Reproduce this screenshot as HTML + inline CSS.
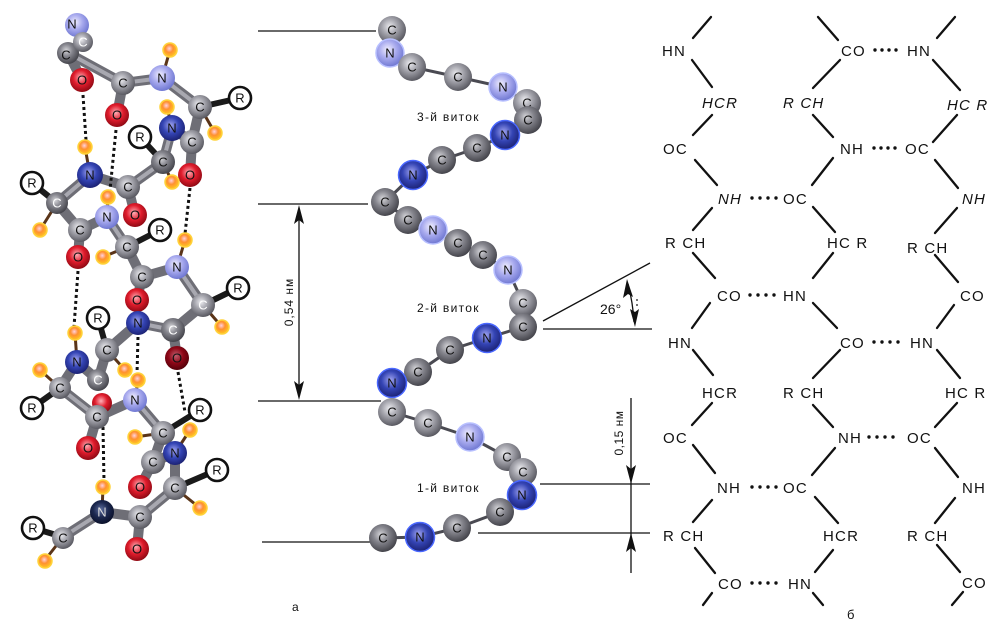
<!DOCTYPE html>
<html><head><meta charset="utf-8"><style>
html,body{margin:0;padding:0;background:#fff;}
svg{display:block;}
</style></head><body>
<svg width="1000" height="640" viewBox="0 0 1000 640" xmlns="http://www.w3.org/2000/svg" font-family="'Liberation Sans', sans-serif">
<defs>
<radialGradient id="gC" cx="0.42" cy="0.38" r="0.62"><stop offset="0" stop-color="#ececf0"/><stop offset="0.45" stop-color="#a4a4ac"/><stop offset="1" stop-color="#5a5a62"/></radialGradient>
<radialGradient id="gD" cx="0.42" cy="0.38" r="0.62"><stop offset="0" stop-color="#d6d6da"/><stop offset="0.45" stop-color="#85858d"/><stop offset="1" stop-color="#45454c"/></radialGradient>
<radialGradient id="gn" cx="0.42" cy="0.38" r="0.62"><stop offset="0" stop-color="#f0eeff"/><stop offset="0.5" stop-color="#a8aaee"/><stop offset="1" stop-color="#7078d2"/></radialGradient>
<radialGradient id="gN" cx="0.45" cy="0.4" r="0.62"><stop offset="0" stop-color="#a0a4f0"/><stop offset="0.5" stop-color="#3444b4"/><stop offset="1" stop-color="#1a2070"/></radialGradient>
<radialGradient id="gK" cx="0.45" cy="0.4" r="0.62"><stop offset="0" stop-color="#6070a0"/><stop offset="0.5" stop-color="#1c2850"/><stop offset="1" stop-color="#0a1028"/></radialGradient>
<radialGradient id="gO" cx="0.45" cy="0.4" r="0.62"><stop offset="0" stop-color="#ffb0b8"/><stop offset="0.5" stop-color="#e01c2c"/><stop offset="1" stop-color="#8a0812"/></radialGradient>
<radialGradient id="gO2" cx="0.45" cy="0.4" r="0.62"><stop offset="0" stop-color="#c06070"/><stop offset="0.5" stop-color="#900818"/><stop offset="1" stop-color="#500008"/></radialGradient>
<radialGradient id="gH" cx="0.45" cy="0.4" r="0.6"><stop offset="0" stop-color="#ffd0e0"/><stop offset="0.45" stop-color="#ff9030"/><stop offset="1" stop-color="#ffc820"/></radialGradient>
</defs>

<!-- ============ LEFT MODEL ============ -->
<g stroke-linecap="round">
<g stroke="#6e6e76" stroke-width="10">
<line x1="77" y1="25" x2="83" y2="42"/><line x1="83" y1="42" x2="68" y2="53"/><line x1="68" y1="53" x2="82" y2="80"/><line x1="68" y1="53" x2="123" y2="83"/>
<line x1="123" y1="83" x2="117" y2="115"/><line x1="123" y1="83" x2="162" y2="78"/><line x1="162" y1="78" x2="200" y2="107"/><line x1="200" y1="107" x2="192" y2="142"/>
<line x1="192" y1="142" x2="190" y2="175"/><line x1="192" y1="142" x2="172" y2="128"/><line x1="172" y1="128" x2="163" y2="162"/><line x1="163" y1="162" x2="128" y2="187"/>
<line x1="128" y1="187" x2="135" y2="215"/><line x1="128" y1="187" x2="90" y2="175"/><line x1="90" y1="175" x2="57" y2="203"/><line x1="57" y1="203" x2="80" y2="230"/>
<line x1="80" y1="230" x2="78" y2="257"/><line x1="80" y1="230" x2="107" y2="217"/><line x1="107" y1="217" x2="127" y2="247"/><line x1="127" y1="247" x2="142" y2="277"/>
<line x1="142" y1="277" x2="137" y2="300"/><line x1="142" y1="277" x2="177" y2="267"/><line x1="177" y1="267" x2="203" y2="305"/><line x1="203" y1="305" x2="173" y2="330"/>
<line x1="173" y1="330" x2="177" y2="358"/><line x1="173" y1="330" x2="138" y2="323"/><line x1="138" y1="323" x2="107" y2="350"/><line x1="107" y1="350" x2="98" y2="380"/>
<line x1="98" y1="380" x2="77" y2="362"/><line x1="77" y1="362" x2="60" y2="388"/><line x1="60" y1="388" x2="97" y2="417"/><line x1="97" y1="417" x2="88" y2="448"/>
<line x1="97" y1="417" x2="135" y2="400"/><line x1="135" y1="400" x2="163" y2="433"/><line x1="163" y1="433" x2="153" y2="462"/><line x1="153" y1="462" x2="140" y2="487"/>
<line x1="153" y1="462" x2="175" y2="453"/><line x1="175" y1="453" x2="175" y2="488"/><line x1="175" y1="488" x2="140" y2="517"/><line x1="140" y1="517" x2="137" y2="548"/>
<line x1="140" y1="517" x2="102" y2="512"/><line x1="102" y1="512" x2="63" y2="537"/>
</g>
<g stroke="#a8a8b0" stroke-width="4">
<line x1="68" y1="53" x2="123" y2="83"/><line x1="123" y1="83" x2="162" y2="78"/><line x1="162" y1="78" x2="200" y2="107"/><line x1="172" y1="128" x2="163" y2="162"/><line x1="163" y1="162" x2="128" y2="187"/>
<line x1="90" y1="175" x2="57" y2="203"/><line x1="107" y1="217" x2="127" y2="247"/><line x1="177" y1="267" x2="203" y2="305"/><line x1="173" y1="330" x2="138" y2="323"/><line x1="60" y1="388" x2="97" y2="417"/>
<line x1="135" y1="400" x2="163" y2="433"/><line x1="175" y1="488" x2="140" y2="517"/><line x1="102" y1="512" x2="63" y2="537"/>
</g>
<g stroke="#5a3418" stroke-width="3">
<line x1="162" y1="78" x2="170" y2="50"/><line x1="200" y1="107" x2="215" y2="133"/><line x1="172" y1="128" x2="167" y2="107"/><line x1="163" y1="162" x2="172" y2="182"/>
<line x1="90" y1="175" x2="85" y2="147"/><line x1="57" y1="203" x2="40" y2="230"/><line x1="107" y1="217" x2="108" y2="197"/><line x1="127" y1="247" x2="103" y2="257"/>
<line x1="177" y1="267" x2="185" y2="240"/><line x1="203" y1="305" x2="222" y2="327"/><line x1="107" y1="350" x2="125" y2="370"/><line x1="77" y1="362" x2="75" y2="333"/>
<line x1="60" y1="388" x2="40" y2="370"/><line x1="135" y1="400" x2="138" y2="380"/><line x1="163" y1="433" x2="135" y2="437"/><line x1="175" y1="453" x2="190" y2="430"/>
<line x1="175" y1="488" x2="200" y2="508"/><line x1="102" y1="512" x2="103" y2="487"/><line x1="63" y1="537" x2="45" y2="560"/>
</g>
<g stroke="#1a1a1a" stroke-width="6">
<line x1="200" y1="107" x2="240" y2="98"/><line x1="163" y1="162" x2="140" y2="137"/><line x1="57" y1="203" x2="32" y2="183"/><line x1="127" y1="247" x2="160" y2="230"/>
<line x1="203" y1="305" x2="238" y2="288"/><line x1="107" y1="350" x2="98" y2="318"/><line x1="60" y1="388" x2="32" y2="408"/><line x1="163" y1="433" x2="200" y2="410"/>
<line x1="175" y1="488" x2="217" y2="470"/><line x1="63" y1="537" x2="33" y2="528"/>
</g>
</g>
<!-- hydrogen bonds -->
<g stroke="#111" stroke-width="3" stroke-dasharray="3 3" fill="none">
<line x1="83" y1="95" x2="86" y2="140"/><line x1="116" y1="130" x2="110" y2="190"/><line x1="190" y1="188" x2="185" y2="234"/>
<line x1="78" y1="271" x2="74" y2="327"/><line x1="138" y1="337" x2="137" y2="374"/><line x1="178" y1="372" x2="185" y2="412"/><line x1="103" y1="427" x2="104" y2="481"/>
</g>
<!-- atoms -->
<g font-size="13" text-anchor="middle" fill="#111">
<circle cx="77" cy="25" r="12" fill="url(#gn)"/><text x="72" y="24" dominant-baseline="central">N</text>
<circle cx="68" cy="53" r="11" fill="url(#gD)"/><text x="66" y="55" dominant-baseline="central">C</text>
<circle cx="83" cy="42" r="10" fill="url(#gC)"/><text x="83" y="42" dominant-baseline="central" fill="#fff">C</text>
<circle cx="82" cy="80" r="12" fill="url(#gO)"/><text x="82" y="80" dominant-baseline="central">O</text>
<circle cx="123" cy="83" r="12" fill="url(#gC)"/><text x="123" y="83" dominant-baseline="central">C</text>
<circle cx="117" cy="115" r="12" fill="url(#gO)"/><text x="117" y="115" dominant-baseline="central">O</text>
<circle cx="162" cy="78" r="13" fill="url(#gn)"/><text x="162" y="78" dominant-baseline="central">N</text>
<circle cx="200" cy="107" r="12" fill="url(#gC)"/><text x="200" y="107" dominant-baseline="central">C</text>
<circle cx="172" cy="128" r="13" fill="url(#gN)"/><text x="172" y="128" dominant-baseline="central">N</text>
<circle cx="192" cy="142" r="12" fill="url(#gC)"/><text x="192" y="142" dominant-baseline="central">C</text>
<circle cx="190" cy="175" r="12" fill="url(#gO)"/><text x="190" y="175" dominant-baseline="central">O</text>
<circle cx="163" cy="162" r="12" fill="url(#gD)"/><text x="163" y="162" dominant-baseline="central">C</text>
<circle cx="90" cy="175" r="13" fill="url(#gN)"/><text x="90" y="175" dominant-baseline="central">N</text>
<circle cx="128" cy="187" r="12" fill="url(#gC)"/><text x="128" y="187" dominant-baseline="central">C</text>
<circle cx="135" cy="215" r="12" fill="url(#gO)"/><text x="135" y="215" dominant-baseline="central">O</text>
<circle cx="57" cy="203" r="11" fill="url(#gD)"/><text x="57" y="203" dominant-baseline="central" fill="#fff">C</text>
<circle cx="107" cy="217" r="12" fill="url(#gn)"/><text x="107" y="217" dominant-baseline="central">N</text>
<circle cx="80" cy="230" r="12" fill="url(#gC)"/><text x="80" y="230" dominant-baseline="central">C</text>
<circle cx="78" cy="257" r="12" fill="url(#gO)"/><text x="78" y="257" dominant-baseline="central">O</text>
<circle cx="127" cy="247" r="12" fill="url(#gC)"/><text x="127" y="247" dominant-baseline="central">C</text>
<circle cx="142" cy="277" r="12" fill="url(#gC)"/><text x="142" y="277" dominant-baseline="central">C</text>
<circle cx="137" cy="300" r="12" fill="url(#gO)"/><text x="137" y="300" dominant-baseline="central">O</text>
<circle cx="177" cy="267" r="12" fill="url(#gn)"/><text x="177" y="267" dominant-baseline="central">N</text>
<circle cx="203" cy="305" r="12" fill="url(#gC)"/><text x="203" y="305" dominant-baseline="central" fill="#fff">C</text>
<circle cx="177" cy="358" r="12" fill="url(#gO2)"/><text x="177" y="358" dominant-baseline="central">O</text>
<circle cx="173" cy="330" r="12" fill="url(#gD)"/><text x="173" y="330" dominant-baseline="central" fill="#fff">C</text>
<circle cx="138" cy="323" r="12" fill="url(#gN)"/><text x="138" y="323" dominant-baseline="central">N</text>
<circle cx="98" cy="380" r="11" fill="url(#gD)"/><text x="98" y="380" dominant-baseline="central" fill="#fff">C</text>
<circle cx="107" cy="350" r="12" fill="url(#gC)"/><text x="107" y="350" dominant-baseline="central">C</text>
<circle cx="102" cy="403" r="10" fill="url(#gO)"/>
<circle cx="77" cy="362" r="12" fill="url(#gN)"/><text x="77" y="362" dominant-baseline="central">N</text>
<circle cx="60" cy="388" r="11" fill="url(#gC)"/><text x="60" y="388" dominant-baseline="central">C</text>
<circle cx="97" cy="417" r="12" fill="url(#gC)"/><text x="97" y="417" dominant-baseline="central">C</text>
<circle cx="88" cy="448" r="12" fill="url(#gO)"/><text x="88" y="448" dominant-baseline="central">O</text>
<circle cx="135" cy="400" r="12" fill="url(#gn)"/><text x="135" y="400" dominant-baseline="central">N</text>
<circle cx="163" cy="433" r="12" fill="url(#gC)"/><text x="163" y="433" dominant-baseline="central">C</text>
<circle cx="140" cy="487" r="12" fill="url(#gO)"/><text x="140" y="487" dominant-baseline="central">O</text>
<circle cx="153" cy="462" r="12" fill="url(#gC)"/><text x="153" y="462" dominant-baseline="central">C</text>
<circle cx="175" cy="453" r="12" fill="url(#gN)"/><text x="175" y="453" dominant-baseline="central">N</text>
<circle cx="175" cy="488" r="12" fill="url(#gC)"/><text x="175" y="488" dominant-baseline="central">C</text>
<circle cx="140" cy="517" r="12" fill="url(#gC)"/><text x="140" y="517" dominant-baseline="central">C</text>
<circle cx="137" cy="549" r="12" fill="url(#gO)"/><text x="137" y="549" dominant-baseline="central">O</text>
<circle cx="102" cy="512" r="12" fill="url(#gK)"/><text x="102" y="512" dominant-baseline="central" fill="#ddd">N</text>
<circle cx="63" cy="538" r="11" fill="url(#gC)"/><text x="63" y="538" dominant-baseline="central">C</text>
</g>
<!-- H atoms -->
<g fill="url(#gH)" stroke="#ffd23a" stroke-width="1.5">
<circle cx="170" cy="50" r="7"/><circle cx="215" cy="133" r="7"/><circle cx="167" cy="107" r="7"/><circle cx="172" cy="182" r="7"/>
<circle cx="85" cy="147" r="7"/><circle cx="40" cy="230" r="7"/><circle cx="108" cy="197" r="7"/><circle cx="103" cy="257" r="7"/>
<circle cx="185" cy="240" r="7"/><circle cx="222" cy="327" r="7"/><circle cx="125" cy="370" r="7"/><circle cx="75" cy="333" r="7"/>
<circle cx="40" cy="370" r="7"/><circle cx="138" cy="380" r="7"/><circle cx="135" cy="437" r="7"/><circle cx="190" cy="430" r="7"/>
<circle cx="200" cy="508" r="7"/><circle cx="103" cy="487" r="7"/><circle cx="45" cy="561" r="7"/>
</g>
<!-- R groups -->
<g font-size="13" text-anchor="middle" fill="#111">
<g fill="#fff" stroke="#111" stroke-width="2.6">
<circle cx="240" cy="98" r="11"/><circle cx="140" cy="137" r="11"/><circle cx="32" cy="183" r="11"/><circle cx="160" cy="230" r="11"/>
<circle cx="238" cy="288" r="11"/><circle cx="98" cy="318" r="11"/><circle cx="32" cy="408" r="11"/><circle cx="200" cy="410" r="11"/>
<circle cx="217" cy="470" r="11"/><circle cx="33" cy="528" r="11"/>
</g>
<text x="240" y="98" dominant-baseline="central">R</text><text x="140" y="137" dominant-baseline="central">R</text><text x="32" y="183" dominant-baseline="central">R</text><text x="160" y="230" dominant-baseline="central">R</text>
<text x="238" y="288" dominant-baseline="central">R</text><text x="98" y="318" dominant-baseline="central">R</text><text x="32" y="408" dominant-baseline="central">R</text><text x="200" y="410" dominant-baseline="central">R</text>
<text x="217" y="470" dominant-baseline="central">R</text><text x="33" y="528" dominant-baseline="central">R</text>
</g>

<!-- ============ MIDDLE: HELIX ============ -->
<g stroke="#111" stroke-width="1.3">
<line x1="258" y1="31" x2="376" y2="31"/>
<line x1="258" y1="204" x2="368" y2="204"/>
<line x1="258" y1="401" x2="381" y2="401"/>
<line x1="262" y1="542" x2="371" y2="542"/>
<line x1="299" y1="210" x2="299" y2="396"/>
<line x1="543" y1="321" x2="650" y2="263"/>
<line x1="543" y1="329" x2="652" y2="329"/>
<line x1="540" y1="484" x2="650" y2="484"/>
<line x1="478" y1="533" x2="650" y2="533"/>
<line x1="631" y1="398" x2="631" y2="573"/>
<path d="M628,284 Q633,303 634,322" fill="none"/>
</g>
<g fill="#111">
<polygon points="299,205 304,224 299,220 294,224"/>
<polygon points="299,400 304,381 299,385 294,381"/>
<polygon points="631,484 636,465 631,469 626,465"/>
<polygon points="631,533 636,552 631,548 626,552"/>
<polygon points="627,279 633,297 628,294 623,298"/>
<polygon points="635,327 639,309 635,312 630,309"/>
<circle cx="637" cy="300" r="0.9"/><circle cx="637" cy="305" r="0.9"/>
</g>
<g fill="#111" font-size="12">
<text x="600" y="314" font-size="14">26°</text>
<text transform="translate(293,302) rotate(-90)" text-anchor="middle" letter-spacing="1">0,54 нм</text>
<text transform="translate(623,433) rotate(-90)" text-anchor="middle" letter-spacing="0.5">0,15 нм</text>
<text x="417" y="121" letter-spacing="1.3">3-й виток</text>
<text x="417" y="312" letter-spacing="1.3">2-й виток</text>
<text x="417" y="492" letter-spacing="1.3">1-й виток</text>
<text x="292" y="611">а</text>
</g>

<!-- helix bonds -->
<polyline fill="none" stroke="#4a4a52" stroke-width="3" points="392,30 390,53 412,67 458,77 503,87 527,103 528,120 505,135 477,148 442,160 413,175 385,202 408,220 433,230 458,243 483,255 508,270 523,303 523,327 487,338 450,350 418,372 392,383 392,412 428,423 470,437 507,457 523,472 522,495 500,512 457,528 420,537 383,538"/>
<g font-size="13" text-anchor="middle" fill="#111">
<circle cx="392" cy="30" r="14" fill="url(#gC)"/><text x="392" y="30" dominant-baseline="central">C</text>
<circle cx="390" cy="53" r="14" fill="url(#gn)" stroke="#b8c0ff" stroke-width="1.5"/><text x="390" y="53" dominant-baseline="central">N</text>
<circle cx="412" cy="67" r="14" fill="url(#gC)"/><text x="412" y="67" dominant-baseline="central">C</text>
<circle cx="458" cy="77" r="14" fill="url(#gC)"/><text x="458" y="77" dominant-baseline="central">C</text>
<circle cx="503" cy="87" r="14" fill="url(#gn)" stroke="#b8c0ff" stroke-width="1.5"/><text x="503" y="87" dominant-baseline="central">N</text>
<circle cx="527" cy="103" r="14" fill="url(#gC)"/><text x="527" y="103" dominant-baseline="central">C</text>
<circle cx="528" cy="120" r="14" fill="url(#gD)"/><text x="528" y="120" dominant-baseline="central">C</text>
<circle cx="505" cy="135" r="14.5" fill="url(#gN)" stroke="#4a68ff" stroke-width="1.5"/><text x="505" y="135" dominant-baseline="central">N</text>
<circle cx="477" cy="148" r="14" fill="url(#gD)"/><text x="477" y="148" dominant-baseline="central">C</text>
<circle cx="442" cy="160" r="14" fill="url(#gD)"/><text x="442" y="160" dominant-baseline="central">C</text>
<circle cx="413" cy="175" r="14.5" fill="url(#gN)" stroke="#4a68ff" stroke-width="1.5"/><text x="413" y="175" dominant-baseline="central">N</text>
<circle cx="385" cy="202" r="14" fill="url(#gD)"/><text x="385" y="202" dominant-baseline="central">C</text>
<circle cx="408" cy="220" r="14" fill="url(#gD)"/><text x="408" y="220" dominant-baseline="central">C</text>
<circle cx="433" cy="230" r="14" fill="url(#gn)" stroke="#b8c0ff" stroke-width="1.5"/><text x="433" y="230" dominant-baseline="central">N</text>
<circle cx="458" cy="243" r="14" fill="url(#gD)"/><text x="458" y="243" dominant-baseline="central">C</text>
<circle cx="483" cy="255" r="14" fill="url(#gD)"/><text x="483" y="255" dominant-baseline="central">C</text>
<circle cx="508" cy="270" r="14" fill="url(#gn)" stroke="#b8c0ff" stroke-width="1.5"/><text x="508" y="270" dominant-baseline="central">N</text>
<circle cx="523" cy="303" r="14" fill="url(#gC)"/><text x="523" y="303" dominant-baseline="central">C</text>
<circle cx="523" cy="327" r="14" fill="url(#gD)"/><text x="523" y="327" dominant-baseline="central">C</text>
<circle cx="487" cy="338" r="14.5" fill="url(#gN)" stroke="#4a68ff" stroke-width="1.5"/><text x="487" y="338" dominant-baseline="central">N</text>
<circle cx="450" cy="350" r="14" fill="url(#gD)"/><text x="450" y="350" dominant-baseline="central">C</text>
<circle cx="418" cy="372" r="14" fill="url(#gD)"/><text x="418" y="372" dominant-baseline="central">C</text>
<circle cx="392" cy="383" r="14.5" fill="url(#gN)" stroke="#4a68ff" stroke-width="1.5"/><text x="392" y="383" dominant-baseline="central">N</text>
<circle cx="392" cy="412" r="14" fill="url(#gC)"/><text x="392" y="412" dominant-baseline="central">C</text>
<circle cx="428" cy="423" r="14" fill="url(#gC)"/><text x="428" y="423" dominant-baseline="central">C</text>
<circle cx="470" cy="437" r="14" fill="url(#gn)" stroke="#b8c0ff" stroke-width="1.5"/><text x="470" y="437" dominant-baseline="central">N</text>
<circle cx="507" cy="457" r="14" fill="url(#gC)"/><text x="507" y="457" dominant-baseline="central">C</text>
<circle cx="523" cy="472" r="14" fill="url(#gC)"/><text x="523" y="472" dominant-baseline="central">C</text>
<circle cx="522" cy="495" r="14.5" fill="url(#gN)" stroke="#4a68ff" stroke-width="1.5"/><text x="522" y="495" dominant-baseline="central">N</text>
<circle cx="500" cy="512" r="14" fill="url(#gD)"/><text x="500" y="512" dominant-baseline="central">C</text>
<circle cx="457" cy="528" r="14" fill="url(#gD)"/><text x="457" y="528" dominant-baseline="central">C</text>
<circle cx="420" cy="537" r="14.5" fill="url(#gN)" stroke="#4a68ff" stroke-width="1.5"/><text x="420" y="537" dominant-baseline="central">N</text>
<circle cx="383" cy="538" r="14" fill="url(#gD)"/><text x="383" y="538" dominant-baseline="central">C</text>
</g>

<!-- ============ RIGHT: STRUCTURE ============ -->
<g stroke="#111" stroke-width="2.3" stroke-linecap="round">
<!-- col1 -->
<line x1="693" y1="38" x2="711" y2="17"/><line x1="692" y1="60" x2="712" y2="87"/><line x1="712" y1="115" x2="693" y2="135"/><line x1="695" y1="160" x2="717" y2="185"/>
<line x1="712" y1="208" x2="693" y2="230"/><line x1="693" y1="253" x2="715" y2="278"/><line x1="710" y1="303" x2="692" y2="328"/>
<line x1="693" y1="350" x2="713" y2="375"/><line x1="712" y1="403" x2="692" y2="425"/><line x1="693" y1="445" x2="715" y2="473"/><line x1="712" y1="500" x2="693" y2="522"/>
<line x1="695" y1="548" x2="715" y2="573"/><line x1="712" y1="593" x2="703" y2="605"/>
<!-- col2 -->
<line x1="818" y1="17" x2="838" y2="40"/><line x1="840" y1="60" x2="813" y2="88"/><line x1="813" y1="115" x2="833" y2="137"/><line x1="833" y1="158" x2="812" y2="185"/>
<line x1="813" y1="207" x2="835" y2="232"/><line x1="833" y1="253" x2="813" y2="278"/><line x1="813" y1="303" x2="837" y2="328"/>
<line x1="840" y1="350" x2="813" y2="378"/><line x1="813" y1="405" x2="833" y2="427"/><line x1="835" y1="448" x2="812" y2="475"/><line x1="815" y1="497" x2="838" y2="523"/>
<line x1="833" y1="550" x2="815" y2="572"/><line x1="813" y1="593" x2="823" y2="605"/>
<!-- col3 -->
<line x1="937" y1="38" x2="955" y2="17"/><line x1="933" y1="60" x2="960" y2="90"/><line x1="957" y1="115" x2="933" y2="142"/><line x1="935" y1="160" x2="958" y2="188"/>
<line x1="957" y1="208" x2="935" y2="233"/><line x1="935" y1="255" x2="958" y2="282"/><line x1="954" y1="305" x2="937" y2="328"/>
<line x1="937" y1="350" x2="960" y2="378"/><line x1="957" y1="403" x2="935" y2="427"/><line x1="935" y1="448" x2="958" y2="477"/><line x1="955" y1="498" x2="935" y2="523"/>
<line x1="937" y1="545" x2="960" y2="572"/><line x1="963" y1="592" x2="952" y2="605"/>
</g>
<g font-size="15" fill="#111" letter-spacing="1.2">
<!-- top half -->
<text x="662" y="56">HN</text>
<text x="841" y="56">CO</text><text x="907" y="56">HN</text>
<text x="702" y="108" font-style="italic">HCR</text>
<text x="783" y="108" font-style="italic">R CH</text>
<text x="947" y="110" font-style="italic">HC R</text>
<text x="663" y="154">OC</text>
<text x="840" y="154">NH</text><text x="905" y="154">OC</text>
<text x="718" y="204" font-style="italic">NH</text><text x="783" y="204">OC</text>
<text x="962" y="204" font-style="italic">NH</text>
<text x="665" y="248">R CH</text>
<text x="827" y="248">HC R</text>
<text x="907" y="253">R CH</text>
<text x="717" y="301">CO</text><text x="783" y="301">HN</text>
<text x="960" y="301">CO</text>
<!-- bottom half -->
<text x="668" y="348">HN</text>
<text x="840" y="348">CO</text><text x="910" y="348">HN</text>
<text x="702" y="398">HCR</text>
<text x="783" y="398">R CH</text>
<text x="945" y="398">HC R</text>
<text x="663" y="443">OC</text>
<text x="838" y="443">NH</text><text x="907" y="443">OC</text>
<text x="717" y="493">NH</text><text x="783" y="493">OC</text>
<text x="962" y="493">NH</text>
<text x="663" y="541">R CH</text>
<text x="823" y="541">HCR</text>
<text x="907" y="541">R CH</text>
<text x="718" y="589">CO</text><text x="788" y="589">HN</text>
<text x="962" y="588">CO</text>
</g>
<!-- dots -->
<g fill="#111">
<circle cx="875" cy="50" r="1.7"/><circle cx="882" cy="50" r="1.7"/><circle cx="889" cy="50" r="1.7"/><circle cx="896" cy="50" r="1.7"/>
<circle cx="874" cy="148" r="1.7"/><circle cx="881" cy="148" r="1.7"/><circle cx="888" cy="148" r="1.7"/><circle cx="895" cy="148" r="1.7"/>
<circle cx="752" cy="198" r="1.7"/><circle cx="760" cy="198" r="1.7"/><circle cx="768" cy="198" r="1.7"/><circle cx="776" cy="198" r="1.7"/>
<circle cx="750" cy="295" r="1.7"/><circle cx="758" cy="295" r="1.7"/><circle cx="766" cy="295" r="1.7"/><circle cx="774" cy="295" r="1.7"/>
<circle cx="874" cy="342" r="1.7"/><circle cx="882" cy="342" r="1.7"/><circle cx="890" cy="342" r="1.7"/><circle cx="898" cy="342" r="1.7"/>
<circle cx="869" cy="437" r="1.7"/><circle cx="877" cy="437" r="1.7"/><circle cx="885" cy="437" r="1.7"/><circle cx="893" cy="437" r="1.7"/>
<circle cx="752" cy="487" r="1.7"/><circle cx="760" cy="487" r="1.7"/><circle cx="768" cy="487" r="1.7"/><circle cx="776" cy="487" r="1.7"/>
<circle cx="752" cy="583" r="1.7"/><circle cx="760" cy="583" r="1.7"/><circle cx="768" cy="583" r="1.7"/><circle cx="776" cy="583" r="1.7"/>
</g>
<text x="847" y="619" font-size="13" fill="#111">б</text>
</svg>
</body></html>
